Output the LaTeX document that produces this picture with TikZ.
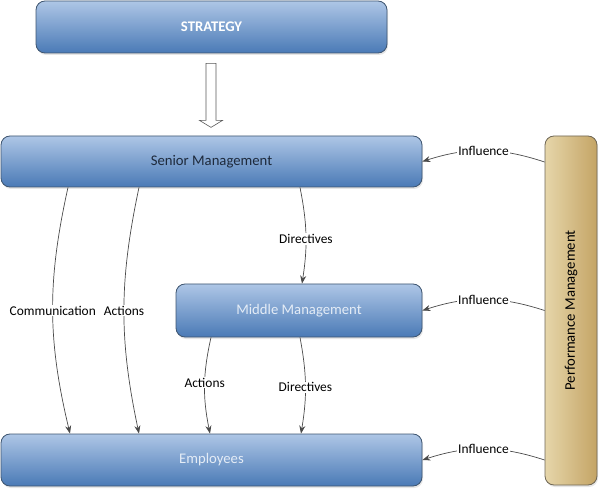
\documentclass[tikz,border=0pt]{standalone}
\usepackage{fontspec}
\setmainfont{Carlito}
\usetikzlibrary{arrows.meta,shadows,calc}
\definecolor{boxtop}{HTML}{AEC6E6}
\definecolor{boxbot}{HTML}{4A7AB6}
\definecolor{boxedge}{HTML}{3E5570}
\definecolor{pmleft}{HTML}{E6D6AA}
\definecolor{pmright}{HTML}{C4A465}
\definecolor{pmedge}{HTML}{6E6655}
\definecolor{linecol}{HTML}{4A4A4A}
\definecolor{darktext}{HTML}{1E2A3C}
\definecolor{lighttext}{HTML}{E4ECF6}
\tikzset{
  bluebox/.style={rectangle, rounded corners=9pt, draw=boxedge, line width=0.8pt,
    top color=boxtop, bottom color=boxbot, font=\fontsize{14.7}{16}\selectfont,
    drop shadow={opacity=0.2, shadow xshift=1pt, shadow yshift=-2pt}},
  tanbox/.style={rectangle, rounded corners=9pt, draw=pmedge, line width=0.8pt,
    left color=pmleft, right color=pmright, font=\fontsize{14.7}{16}\selectfont,
    drop shadow={opacity=0.2, shadow xshift=1pt, shadow yshift=-2pt}},
  conn/.style={draw=linecol, line width=0.7pt, -{Stealth[length=8pt,width=6pt]}},
  lbl/.style={fill=white, inner sep=1pt, text=black, font=\fontsize{13.4}{15}\selectfont},
}
\begin{document}
\begin{tikzpicture}[x=1pt,y=-1pt]
\useasboundingbox (0,0) rectangle (600,489);
\node[bluebox, minimum width=351, minimum height=52, text=white, font=\fontsize{14.7}{16}\selectfont\bfseries] (strat) at (211.5,27) {STRATEGY};
\node[bluebox, minimum width=421, minimum height=51, text=darktext] (senior) at (211.5,161.5) {Senior Management};
\node[bluebox, minimum width=246, minimum height=53, text=lighttext] (middle) at (299,310.5) {Middle Management};
\node[bluebox, minimum width=421, minimum height=52, text=lighttext] (emp) at (211.5,460) {Employees};
\node[tanbox, minimum width=52, minimum height=349] (pm) at (571,310.5) {};
\node[rotate=90, font=\fontsize{14.7}{16}\selectfont, text=black] (pmtext) at (pm.center) {Performance Management};
% hollow arrow
\coordinate (ha) at ($(strat.south)+(-0.5,10)$);
\draw[draw=gray!70!black, fill=white, line width=0.6pt]
  ($(ha)+(-5,0)$) -- ($(ha)+(5,0)$) -- ($(ha)+(5,57)$) -- ($(ha)+(11.5,57)$)
  -- ($(ha)+(0,64)$) -- ($(ha)+(-11.5,57)$) -- ($(ha)+(-5,57)$) -- cycle;
% senior to employees
\draw[conn] ([xshift=-143.5pt]senior.south) to[bend right=13]
  node[lbl, pos=0.5] {Communication} ([xshift=-141.5pt]emp.north);
\draw[conn] ([xshift=-72.5pt]senior.south) to[bend right=12]
  node[lbl, pos=0.5] {Actions} ([xshift=-72.5pt]emp.north);
% senior to middle
\draw[conn] ([xshift=88.5pt]senior.south) to[bend left=10]
  node[lbl, pos=0.54] {Directives} ([xshift=3pt]middle.north);
% middle to employees
\draw[conn] ([xshift=-88pt]middle.south) to[bend right=12]
  node[lbl, pos=0.47] {Actions} ([xshift=-1.5pt]emp.north);
\draw[conn] ([xshift=1pt]middle.south) to[bend left=10]
  node[lbl, pos=0.52] {Directives} ([xshift=89.5pt]emp.north);
% influence
\draw[conn] ([yshift=148.5pt]pm.west) to[bend right=18]
  node[lbl, pos=0.5] {Influence} (senior.east);
\draw[conn] (pm.west) to[bend right=18]
  node[lbl, pos=0.5] {Influence} (middle.east);
\draw[conn] ([yshift=-149.5pt]pm.west) to[bend right=18]
  node[lbl, pos=0.5] {Influence} (emp.east);
\end{tikzpicture}
\end{document}
